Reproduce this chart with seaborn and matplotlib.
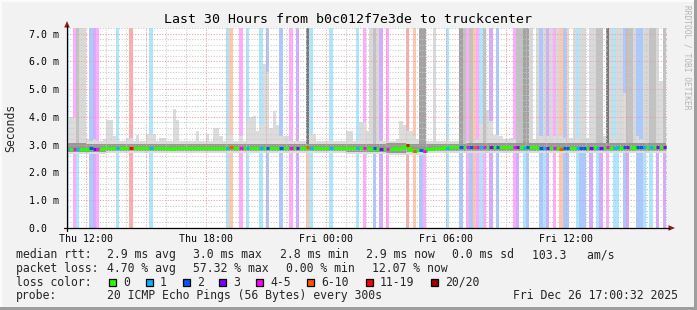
import numpy as np
import matplotlib
matplotlib.use("Agg")
import matplotlib.pyplot as plt
import seaborn as sns
from matplotlib.patches import Rectangle, Polygon
from matplotlib.lines import Line2D
from matplotlib.ticker import MultipleLocator, FuncFormatter

# ---------------- data ----------------
START_HOUR = 11.0          # first slot starts Thu 11:00 (hours since Thu 00:00)
SLOT = 1.0 / 6.0           # 10-minute slots
X_MIN, X_MAX = 11.05, 41.05
Y_MAX = 7.2                # ms

# median rtt (ms), one value per 10-minute slot
median_ms = [
    2.85, 2.86, 2.84, 2.85, 2.86, 2.85, 2.86, 2.87, 2.85, 2.84, 2.86, 2.87,
    2.88, 2.89, 2.88, 2.87, 2.88, 2.88, 2.87, 2.89, 2.88, 2.87, 2.88, 2.88,
    2.87, 2.88, 2.88, 2.89, 2.88, 2.87, 2.88, 2.86, 2.87, 2.88, 2.89, 2.88,
    2.88, 2.87, 2.88, 2.88, 2.89, 2.88, 2.87, 2.88, 2.88, 2.89, 2.88, 2.87,
    2.88, 2.90, 2.88, 2.87, 2.88, 2.89, 2.88, 2.87, 2.88, 2.88, 2.89, 2.88,
    2.87, 2.88, 2.88, 2.89, 2.88, 2.87, 2.88, 2.88, 2.87, 2.88, 2.89, 2.88,
    2.90, 2.88, 2.87, 2.88, 2.88, 2.89, 2.88, 2.88, 2.87, 2.88, 2.88, 2.89,
    2.88, 2.87, 2.88, 2.88, 2.89, 2.88, 2.87, 2.86, 2.87, 2.86, 2.85, 2.86,
    2.85, 2.86, 2.87, 2.86, 2.88, 2.90, 2.98, 2.80, 2.78, 2.82, 2.80, 2.76,
    2.84, 2.86, 2.87, 2.88, 2.89, 2.90, 2.89, 2.90, 2.91, 2.90, 2.91, 2.92,
    2.91, 2.92, 2.90, 2.91, 2.92, 2.91, 2.90, 2.91, 2.92, 2.91, 2.92, 2.93,
    2.92, 2.91, 2.90, 2.91, 2.90, 2.89, 2.90, 2.91, 2.90, 2.89, 2.88, 2.89,
    2.88, 2.89, 2.88, 2.87, 2.86, 2.87, 2.88, 2.87, 2.88, 2.89, 2.88, 2.89,
    2.88, 2.89, 2.90, 2.89, 2.88, 2.89, 2.90, 2.88, 2.89, 2.90, 2.89, 2.90,
    2.91, 2.90, 2.89, 2.90, 2.91, 2.90, 2.91, 2.92, 2.91, 2.90, 2.91, 2.92,
]

# slowest ping per slot (ms) - top of the light smoke
smoke_max_ms = [
    3.2, 4.0, 4.0, 3.3, 3.2, 3.12, 3.2, 3.12, 3.2, 3.12, 3.12, 3.2,
    3.9, 3.9, 3.3, 3.12, 3.15, 3.12, 3.25, 3.25, 3.12, 3.35, 3.12, 3.15,
    3.4, 3.4, 3.4, 3.12, 3.25, 3.25, 3.12, 3.15, 4.3, 3.9, 3.12, 3.12,
    3.15, 3.12, 3.12, 3.5, 3.15, 3.12, 3.4, 3.12, 3.6, 3.6, 3.3, 3.15,
    3.35, 3.35, 3.12, 3.15, 3.3, 3.12, 3.85, 4.0, 4.05, 3.5, 3.7, 5.9,
    5.6, 3.6, 4.2, 3.7, 3.3, 3.3, 3.3, 3.15, 3.12, 3.12, 3.15, 3.12,
    3.4, 3.4, 3.4, 3.12, 3.15, 3.12, 3.12, 3.15, 3.12, 3.12, 3.15, 3.12,
    3.5, 3.5, 3.15, 3.12, 3.8, 3.8, 3.5, 3.5, 3.5, 3.3, 3.15, 3.12,
    3.15, 3.12, 3.15, 3.2, 3.85, 3.7, 3.5, 3.5, 3.3, 3.2, 3.3, 3.3,
    3.15, 3.12, 3.15, 3.15, 3.12, 3.15, 3.2, 3.15, 3.12, 3.15, 3.2, 3.15,
    3.15, 3.2, 3.15, 3.2, 3.75, 3.75, 4.25, 3.85, 3.35, 3.35, 3.3, 3.2,
    3.2, 3.25, 3.2, 3.2, 3.3, 3.3, 3.2, 3.3, 3.2, 3.25, 3.3, 3.2,
    3.3, 3.2, 3.3, 3.25, 3.3, 3.25, 3.4, 3.25, 3.3, 3.25, 3.2, 3.3,
    3.25, 3.3, 3.2, 3.3, 3.25, 3.3, 3.2, 3.3, 3.25, 3.9, 3.9, 4.85,
    3.4, 3.3, 3.25, 3.3, 3.2, 3.3, 3.25, 3.4, 3.4, 3.3, 5.3, 3.3,
]

# hourly smoke extents (ms)
smoke_min_ms = [2.68, 2.68, 2.69, 2.69, 2.69, 2.69, 2.69, 2.69, 2.69, 2.69,
                2.69, 2.69, 2.69, 2.69, 2.68, 2.67, 2.62, 2.64, 2.69, 2.70,
                2.70, 2.70, 2.70, 2.70, 2.69, 2.69, 2.70, 2.70, 2.70, 2.70]
band_lo_ms = [2.75, 2.75, 2.76, 2.76, 2.76, 2.76, 2.76, 2.76, 2.76, 2.76,
              2.76, 2.76, 2.76, 2.76, 2.75, 2.74, 2.70, 2.72, 2.76, 2.77,
              2.77, 2.77, 2.77, 2.77, 2.76, 2.76, 2.77, 2.77, 2.77, 2.77]
band_hi_ms = [3.06, 3.04, 3.02, 3.01, 3.01, 3.02, 3.01, 3.01, 3.02, 3.01,
              3.01, 3.02, 3.02, 3.01, 3.02, 3.03, 3.06, 3.04, 3.03, 3.04,
              3.05, 3.05, 3.05, 3.05, 3.05, 3.05, 3.05, 3.05, 3.05, 3.05]

# slots with packet loss and their loss class (index into loss legend)
loss_slots = [0, 2, 3, 7, 8, 9, 15, 19, 25, 48, 49, 52, 54, 58, 60, 64, 67, 69,
              72, 73, 79, 87, 89, 92, 94, 96, 102, 104, 106, 107, 114, 118, 120,
              121, 122, 123, 124, 125, 127, 129, 134, 135, 137, 138, 142, 143,
              144, 146, 148, 149, 150, 153, 154, 155, 157, 159, 160, 162, 164,
              165, 167, 168, 171, 172, 173, 175, 177, 179]
loss_class = [1, 4, 1, 2, 3, 4, 1, 6, 1, 1, 5, 4, 1, 1, 2, 2, 4, 3,
              5, 1, 1, 1, 4, 2, 3, 4, 6, 5, 2, 4, 1, 2, 4,
              2, 5, 4, 1, 4, 3, 2, 4, 3, 1, 2, 2, 1,
              3, 4, 5, 2, 2, 1, 2, 2, 3, 1, 3, 4, 1,
              1, 2, 3, 2, 2, 1, 1, 3, 3]

# slots where smoke reaches past the top of the graph, with shade level
full_slots = [3, 4, 5, 72, 91, 92, 93, 106, 107, 110, 118, 119, 121, 125, 135,
              136, 137, 138, 139, 141, 143, 145, 147, 150, 152, 154, 155, 157,
              158, 159, 160, 162, 163, 165, 166, 168, 169, 170, 173, 174, 175,
              176, 177, 179]
full_shade = [2, 1, 1, 4, 1, 2, 1, 3, 3, 1, 3, 2, 2, 2, 2,
              2, 3, 3, 1, 1, 1, 1, 1, 1, 1, 1, 1, 1,
              1, 2, 2, 4, 1, 1, 1, 2, 2, 1, 1, 1, 2,
              2, 1, 2]

loss_labels = ["0", "1", "2", "3", "4-5", "6-10", "11-19", "20/20"]
loss_colors = ["#26ff00", "#00b8ff", "#0059ff", "#7e00ff", "#ff00ff",
               "#ff5500", "#ff0000", "#a10000"]
shade_colors = {1: "#d9d9d9", 2: "#c2c2c2", 3: "#a3a3a3", 4: "#7a7a7a"}

y_tick_values = [0, 1, 2, 3, 4, 5, 6, 7]
y_tick_labels = ["0.0  ", "1.0 m", "2.0 m", "3.0 m", "4.0 m", "5.0 m", "6.0 m", "7.0 m"]
x_tick_values = [12, 18, 24, 30, 36]
x_tick_labels = ["Thu 12:00", "Thu 18:00", "Fri 00:00", "Fri 06:00", "Fri 12:00"]

title = "Last 30 Hours from b0c012f7e3de to truckcenter"
rtt_stats = ["2.9 ms avg", "3.0 ms max", "2.8 ms min", "2.9 ms now", "0.0 ms sd", "103.3   am/s"]
loss_stats = ["4.70 % avg", "57.32 % max", "0.00 % min", "12.07 % now"]
probe_text = "20 ICMP Echo Pings (56 Bytes) every 300s"
stamp_text = "Fri Dec 26 17:00:32 2025"

# ---------------- drawing ----------------
sns.set_style("white")
plt.rcParams['font.family'] = ['DejaVu Sans Mono']

W, H = 697, 310
fig = plt.figure(figsize=(W / 100, H / 100), dpi=100)
fig.patch.set_facecolor('#f2f2f2')

bg = fig.add_axes([0, 0, 1, 1], zorder=0)
bg.set_xlim(0, W); bg.set_ylim(H, 0); bg.axis('off')
bg.add_patch(Rectangle((0, 0), W, 2, color='#fbfbfb', lw=0))
bg.add_patch(Rectangle((0, 0), 2, H, color='#fbfbfb', lw=0))
bg.add_patch(Rectangle((0, H - 3), W, 3, color='#9e9e9e', lw=0))
bg.add_patch(Rectangle((W - 3, 0), 3, H, color='#9e9e9e', lw=0))

ax = fig.add_axes([67 / W, 1 - 228 / H, 600 / W, 200 / H], zorder=2)
ax.set_facecolor('white')

n = len(median_ms)
med = np.array(median_ms)
smax = np.array(smoke_max_ms)
x_left = START_HOUR + np.arange(n) * SLOT
x_edges = START_HOUR + np.arange(n + 1) * SLOT

# loss background bars
li = np.array(loss_slots)
ax.bar(x_left[li], Y_MAX, width=SLOT, align='edge',
       color=[loss_colors[c] for c in loss_class], alpha=0.33, lw=0, zorder=1)

# light smoke
lo = np.repeat(smoke_min_ms, 6)[:n]
ax.fill_between(x_edges, np.append(lo, lo[-1]), np.append(smax, smax[-1]),
                step='post', color='#dcdcdc', lw=0, zorder=1.2)

# smoke off the top
fi = np.array(full_slots)
ax.bar(x_left[fi], Y_MAX - med[fi], bottom=med[fi], width=SLOT, align='edge',
       color=[shade_colors[s] for s in full_shade], lw=0, zorder=1.3)

# dense smoke band
blo = np.repeat(band_lo_ms, 6)[:n]
bhi = np.repeat(band_hi_ms, 6)[:n]
ax.fill_between(x_edges, np.append(blo, blo[-1]), np.append(bhi, bhi[-1]),
                step='post', color='#979797', lw=0, zorder=1.4)

# median line, coloured by loss
sns.lineplot(x=x_edges, y=np.append(med, med[-1]), drawstyle='steps-post',
             color=loss_colors[0], lw=2.2, ax=ax, zorder=3,
             estimator=None, sort=False, legend=False)
ax.hlines(med[li], x_left[li], x_left[li] + SLOT,
          colors=[loss_colors[c] for c in loss_class], lw=2.2, zorder=3.1,
          capstyle='butt')

ax.set_xlim(X_MIN, X_MAX)
ax.set_ylim(0, Y_MAX)
ax.set_xlabel(''); ax.set_ylabel('')

xlab = dict(zip(x_tick_values, x_tick_labels))
ylab = dict(zip(y_tick_values, y_tick_labels))
ax.xaxis.set_major_locator(MultipleLocator(3))
ax.xaxis.set_minor_locator(MultipleLocator(1))
ax.yaxis.set_major_locator(MultipleLocator(1))
ax.yaxis.set_minor_locator(MultipleLocator(0.2))
ax.xaxis.set_major_formatter(FuncFormatter(lambda v, p: xlab.get(int(round(v)), '')))
ax.yaxis.set_major_formatter(FuncFormatter(lambda v, p: ylab.get(int(round(v)), '')))

ax.grid(True, which='major', color='#f09a9a', linestyle=(0, (1, 1.6)), linewidth=0.75)
ax.grid(True, which='minor', color='#c8c8c8', linestyle=(0, (1, 1.6)), linewidth=0.75)
ax.set_axisbelow(False)
for s in ax.spines.values():
    s.set_visible(False)
ax.tick_params(which='major', direction='out', length=3, width=0.7,
               color='#e07070', labelsize=7.1, labelcolor='black')
ax.tick_params(which='minor', direction='out', length=2, width=0.7, color='#b8b8b8')
ax.tick_params(axis='x', which='major', pad=1.5)
ax.tick_params(axis='y', which='major', pad=2.9)

# overlay: axes lines and arrows
ov = fig.add_axes([0, 0, 1, 1], zorder=4)
ov.set_xlim(0, W); ov.set_ylim(H, 0); ov.axis('off')
ov.patch.set_alpha(0)
ov.add_line(Line2D([64, 669], [228, 228], color='black', lw=0.9))
ov.add_line(Line2D([67, 67], [231, 26], color='black', lw=0.9))
ov.add_patch(Polygon([[67, 21], [64.2, 27.5], [69.8, 27.5]], closed=True,
                     color='#8e1c1c', lw=0))
ov.add_patch(Polygon([[675, 228], [668.5, 225.2], [668.5, 230.8]], closed=True,
                     color='#8e1c1c', lw=0))

# texts
bg.text(348.5, 23.3, title, ha='center', va='baseline', fontsize=9.55, color='black')
bg.text(11, 128, "Seconds", ha='center', va='center', rotation=90, fontsize=8.3)
bg.text(687.5, 5, "RRDTOOL / TOBI OETIKER", ha='center', va='top', rotation=270,
        fontsize=5.7, color='#b4b4b4')

LFS = 8.3
y1, y2, y3, y4 = 258.3, 271.8, 285.5, 299.0
bg.text(16, y1, "median rtt:", fontsize=LFS, va='baseline')
for xx, t in zip([107, 193.3, 279.6, 365.9, 452.2, 531.6], rtt_stats):
    bg.text(xx, y1, t, fontsize=LFS, va='baseline')
bg.text(16, y2, "packet loss:", fontsize=LFS, va='baseline')
for xx, t in zip([107, 193.3, 286.5, 372.5], loss_stats):
    bg.text(xx, y2, t, fontsize=LFS, va='baseline')
bg.text(16, y3, "loss color:", fontsize=LFS, va='baseline')
sq_left = [109, 146, 182.7, 219.3, 256, 307.3, 366, 430.7]
for xl, lab, col in zip(sq_left, loss_labels, loss_colors):
    bg.add_patch(Rectangle((xl, 278.5), 7, 7, facecolor=col, edgecolor='black', lw=0.9))
    bg.text(xl + 14, y3, lab, fontsize=LFS, va='baseline')
bg.text(16, y4, "probe:", fontsize=LFS, va='baseline')
bg.text(107, y4, probe_text, fontsize=LFS, va='baseline')
bg.text(513.3, y4, stamp_text, fontsize=LFS, va='baseline')

fig.savefig("out.png", dpi=100, facecolor=fig.get_facecolor())
